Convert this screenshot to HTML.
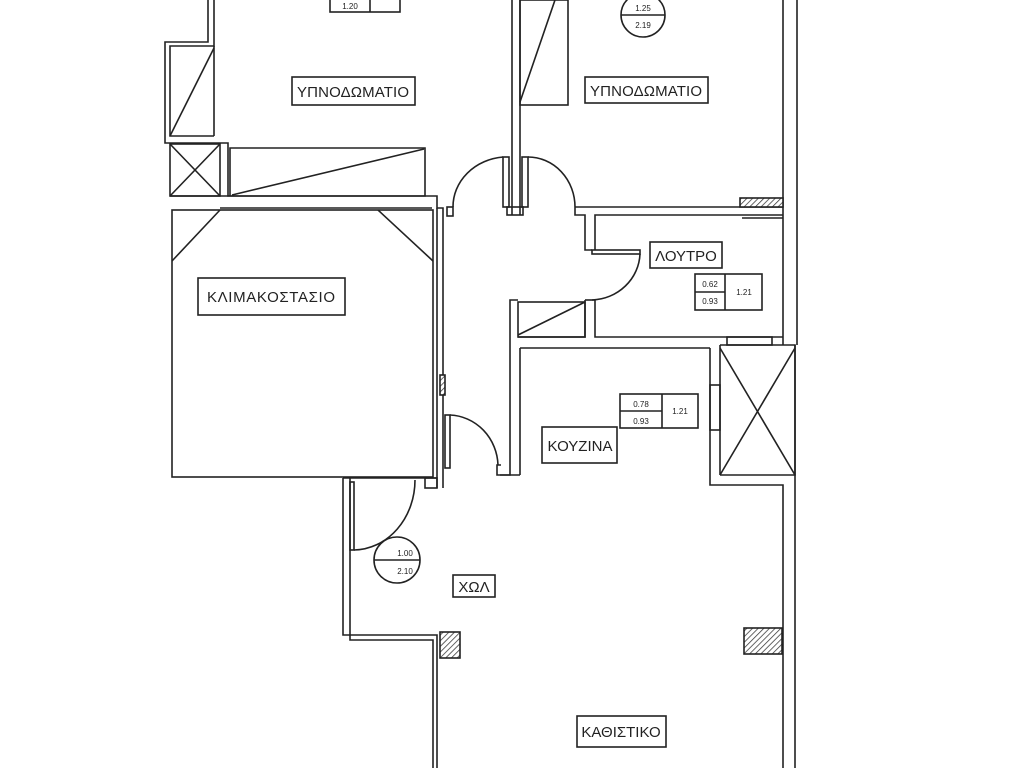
<!DOCTYPE html>
<html><head><meta charset="utf-8"><style>
html,body{margin:0;padding:0;background:#fff}
svg{display:block}
text{font-family:"Liberation Sans","DejaVu Sans",sans-serif;fill:#222}
</style></head><body>
<svg width="1024" height="768" viewBox="0 0 1024 768" xmlns="http://www.w3.org/2000/svg">
<defs>
<pattern id="h" width="4" height="4" patternUnits="userSpaceOnUse" patternTransform="rotate(45)">
<rect width="4" height="4" fill="#fff"/><line x1="0" y1="0" x2="0" y2="4" stroke="#333" stroke-width="1.5"/></pattern>
</defs>
<g fill="none" stroke="#222" stroke-width="1.6">
<polyline points="208,0 208,42 165,42 165,143 228,143 228,196 425,196 425,148 230,148 230,196"/>
<polyline points="214,0 214,46 170,46 170,136 214,136"/>
<line x1="214" y1="46" x2="214" y2="136"/>
<line x1="170" y1="136" x2="214" y2="48"/>
<rect x="170" y="144" width="50" height="52"/>
<line x1="170" y1="144" x2="220" y2="196"/><line x1="220" y1="144" x2="170" y2="196"/>
<line x1="232" y1="195" x2="424" y2="149"/>
<polyline points="170,196 437,196 437,208 443,208 443,216"/>
<polyline points="220,208 432,208"/>
<rect x="172" y="210" width="261" height="267"/>
<line x1="172" y1="261" x2="220" y2="210"/><line x1="378" y1="210" x2="433" y2="261"/>
<line x1="437" y1="208" x2="437" y2="488"/><line x1="443" y1="216" x2="443" y2="488"/>
<rect x="440" y="375" width="5" height="20" fill="url(#h)"/>
<line x1="512" y1="0" x2="512" y2="215"/><line x1="520" y1="0" x2="520" y2="215"/>
<rect x="503" y="157" width="6" height="50"/><rect x="522" y="157" width="6" height="50"/>
<rect x="507" y="207" width="16" height="8"/>
<path d="M453,207 A55,50 0 0 1 503,157"/>
<path d="M528,157 A47,50 0 0 1 575,207"/>
<rect x="447" y="207" width="6" height="9"/>
<rect x="520" y="0" width="48" height="105"/><line x1="520" y1="102" x2="555" y2="0"/>
<line x1="783" y1="0" x2="783" y2="345"/><line x1="797" y1="0" x2="797" y2="345"/>
<polyline points="575,207 575,215 585,215 585,250 592,250"/>
<line x1="575" y1="207" x2="783" y2="207"/>
<polyline points="595,250 595,215 783,215"/>
<rect x="740" y="198" width="43" height="9" fill="url(#h)"/>
<line x1="742" y1="218" x2="783" y2="218"/>
<rect x="592" y="250" width="48" height="4"/>
<path d="M640,254 A50,48 0 0 1 592,300"/>
<polyline points="585,300 585,337 518,337"/>
<polyline points="518,300 510,300 510,475 497,475 497,465 501,465"/>
<polyline points="595,300 595,337 783,337"/>
<line x1="585" y1="300" x2="595" y2="300"/>
<rect x="518" y="302" width="67" height="35"/><line x1="518" y1="335" x2="585" y2="302"/>
<rect x="727" y="337" width="45" height="8"/>
<line x1="520" y1="348" x2="710" y2="348"/>
<polyline points="520,348 520,475"/>
<line x1="500" y1="475" x2="520" y2="475"/>
<polyline points="710,348 710,485 783,485 783,768"/>
<line x1="720" y1="345" x2="720" y2="475"/>
<rect x="710" y="385" width="10" height="45"/>
<line x1="795" y1="345" x2="795" y2="768"/>
<polyline points="720,345 795,345 795,475 720,475"/>
<line x1="720" y1="348" x2="795" y2="475"/><line x1="795" y1="348" x2="720" y2="475"/>
<rect x="445" y="415" width="5" height="53"/>
<path d="M450,415 A50,52 0 0 1 498,465"/>
<rect x="425" y="478" width="12" height="10"/>
<polyline points="343,478 343,635 437,635 437,768"/>
<polyline points="350,478 350,640 433,640 433,768"/>
<line x1="343" y1="478" x2="437" y2="478"/>
<rect x="350" y="482" width="4" height="68"/>
<path d="M354,550 A62,70 0 0 0 415,480"/>
<rect x="440" y="632" width="20" height="26" fill="url(#h)"/>
<rect x="744" y="628" width="38" height="26" fill="url(#h)"/>
<rect x="292" y="77" width="123" height="28"/>
<rect x="585" y="77" width="123" height="26"/>
<rect x="198" y="278" width="147" height="37"/>
<rect x="650" y="242" width="72" height="26"/>
<rect x="695" y="274" width="67" height="36"/><line x1="695" y1="292" x2="725" y2="292"/><line x1="725" y1="274" x2="725" y2="310"/>
<rect x="620" y="394" width="78" height="34"/><line x1="620" y1="411" x2="662" y2="411"/><line x1="662" y1="394" x2="662" y2="428"/>
<rect x="542" y="427" width="75" height="36"/>
<rect x="453" y="575" width="42" height="22"/>
<rect x="577" y="716" width="89" height="31"/>
<rect x="330" y="-2" width="70" height="14"/><line x1="370" y1="-2" x2="370" y2="12"/>
<circle cx="397" cy="560" r="23"/><line x1="374" y1="560" x2="420" y2="560"/>
<circle cx="643" cy="15" r="22"/><line x1="621" y1="15" x2="665" y2="15"/>
</g>
<g font-size="15" text-anchor="middle">
<text x="353" y="97" textLength="112">ΥΠΝΟΔΩΜΑΤΙΟ</text>
<text x="646" y="96" textLength="112">ΥΠΝΟΔΩΜΑΤΙΟ</text>
<text x="271" y="302" textLength="128">ΚΛΙΜΑΚΟΣΤΑΣΙΟ</text>
<text x="686" y="261">ΛΟΥΤΡΟ</text>
<text x="580" y="451">ΚΟΥΖΙΝΑ</text>
<text x="474" y="592">ΧΩΛ</text>
<text x="621" y="737">ΚΑΘΙΣΤΙΚΟ</text>
</g>
<g font-size="8" text-anchor="middle">
<text x="710" y="287">0.62</text><text x="710" y="304">0.93</text><text x="744" y="295">1.21</text>
<text x="641" y="407">0.78</text><text x="641" y="424">0.93</text><text x="680" y="414">1.21</text>
<text x="405" y="556">1.00</text><text x="405" y="574">2.10</text>
<text x="643" y="11">1.25</text><text x="643" y="28">2.19</text>
<text x="350" y="9">1.20</text>
</g>
</svg>
</body></html>
